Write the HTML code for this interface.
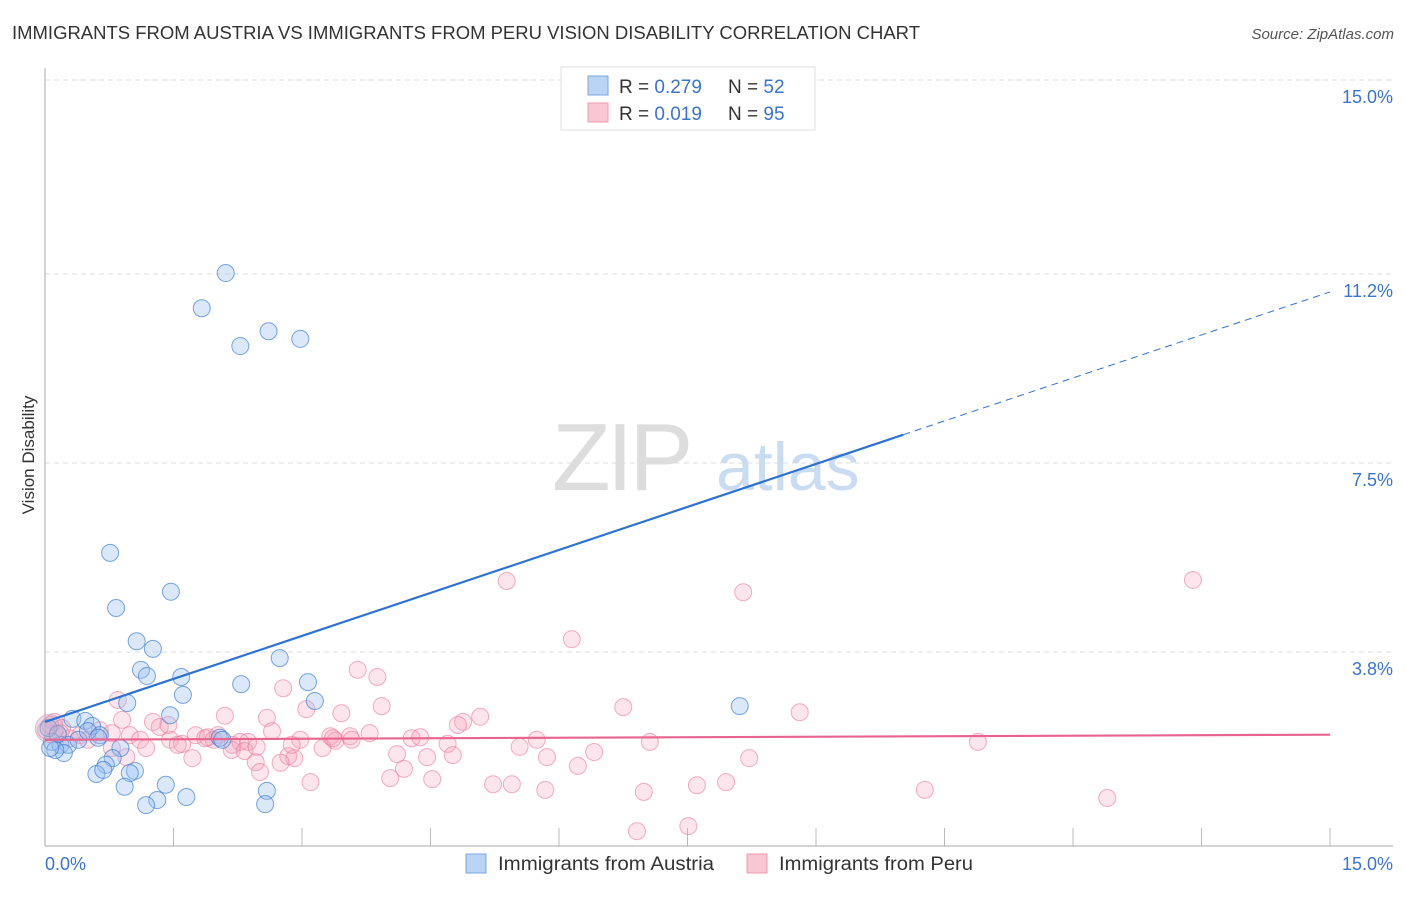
<!DOCTYPE html>
<html><head><meta charset="utf-8"><style>
body{margin:0;background:#fff;font-family:"Liberation Sans",sans-serif;}
svg text{font-family:"Liberation Sans",sans-serif;}
</style></head><body>
<svg id="chart" width="1406" height="892" xmlns="http://www.w3.org/2000/svg">
<text x="12" y="39" font-size="18" fill="#333" textLength="908" lengthAdjust="spacingAndGlyphs">IMMIGRANTS FROM AUSTRIA VS IMMIGRANTS FROM PERU VISION DISABILITY CORRELATION CHART</text>
<text x="1394" y="39" font-size="15" fill="#555" font-style="italic" text-anchor="end">Source: ZipAtlas.com</text>
<text x="552" y="490" font-size="96" fill="#ddd" font-family="Liberation Serif" letter-spacing="-4">ZIP</text>
<text x="716" y="490" font-size="68" fill="#c9dcf2">atlas</text>
<g id="grid"></g>
<g id="axes"></g>
<g id="pts"></g>
<g id="trend"></g>
<text transform="translate(34,455) rotate(-90)" font-size="17" fill="#333" text-anchor="middle">Vision Disability</text>
<text x="45" y="870" font-size="18" fill="#3a74d0">0.0%</text>
<text x="1393" y="870" font-size="18" fill="#3a74d0" text-anchor="end">15.0%</text>
<g>
<rect x="561" y="67" width="254" height="63" fill="#fff" stroke="#ddd"/>
<rect x="588" y="76" width="20" height="19" fill="#b9d4f5" stroke="#7aa6e0"/>
<rect x="588" y="103" width="20" height="19" fill="#f9c6d4" stroke="#f09ab2"/>
<text x="619" y="93" font-size="19" fill="#333">R = <tspan fill="#3a74d0">0.279</tspan></text>
<text x="728" y="93" font-size="19" fill="#333">N = <tspan fill="#3a74d0">52</tspan></text>
<text x="619" y="120" font-size="19" fill="#333">R = <tspan fill="#3a74d0">0.019</tspan></text>
<text x="728" y="120" font-size="19" fill="#333">N = <tspan fill="#3a74d0">95</tspan></text>
</g>
<g>
<rect x="466" y="854" width="20" height="19" fill="#b9d4f5" stroke="#7aa6e0"/>
<text x="498" y="870" font-size="19" fill="#333" textLength="216" lengthAdjust="spacingAndGlyphs">Immigrants from Austria</text>
<rect x="747" y="854" width="20" height="19" fill="#f9c6d4" stroke="#f09ab2"/>
<text x="779" y="870" font-size="19" fill="#333" textLength="194" lengthAdjust="spacingAndGlyphs">Immigrants from Peru</text>
</g>
</svg>
<script>
const yTicks=[15.0,11.2,7.5,3.8];
const yTickLabels=["15.0%","11.2%","7.5%","3.8%"];
const xTicks=[1.5,3,4.5,6,7.5,9,10.5,12,13.5,15];
const austriaX=[2.11,1.83,2.61,2.98,2.28,0.76,0.83,1.47,1.07,1.26,1.12,1.19,1.59,2.74,2.29,3.07,1.61,0.96,3.15,1.46,8.11,0.32,0.47,0.55,0.08,0.18,0.27,0.39,0.22,0.12,0.64,0.88,0.79,0.71,0.60,0.68,1.05,0.99,0.93,1.41,1.31,1.18,1.65,2.59,2.57,2.04,2.07,0.04,0.15,0.50,0.62,0.06];
const austriaY=[11.22,10.53,10.08,9.93,9.79,5.74,4.66,4.98,4.01,3.86,3.45,3.33,3.31,3.68,3.17,3.21,2.96,2.80,2.84,2.56,2.74,2.49,2.45,2.35,2.04,1.98,1.98,2.08,1.82,1.88,2.17,1.92,1.72,1.59,1.41,1.49,1.47,1.43,1.16,1.20,0.90,0.80,0.96,1.08,0.82,2.12,2.08,2.31,2.19,2.25,2.12,1.92];
const peruX=[5.39,8.15,13.40,6.15,3.65,3.88,2.78,3.93,3.05,3.46,5.08,4.88,4.82,6.75,8.81,0.85,0.90,1.26,1.34,2.10,2.59,2.65,0.11,0.20,0.64,0.78,0.99,1.11,1.46,1.60,1.76,1.87,1.97,2.19,2.28,2.37,2.98,3.33,3.39,3.56,3.58,3.79,4.28,4.38,4.70,5.54,5.74,7.06,10.89,1.18,1.55,2.18,2.33,2.47,3.24,4.11,4.46,4.76,5.86,6.41,8.22,0.78,0.95,1.72,2.46,2.84,2.91,2.75,2.51,4.19,6.22,4.03,4.52,3.10,5.23,5.45,7.61,7.95,5.84,6.99,10.27,12.40,6.91,7.51,0.41,0.50,0.29,0.18,0.06,0.01,1.44,1.90,2.02,2.88,3.36];
const peruY=[5.19,4.97,5.21,4.05,3.45,3.31,3.09,2.74,2.68,2.60,2.53,2.43,2.37,2.72,2.62,2.86,2.47,2.43,2.33,2.55,2.51,2.25,2.43,2.31,2.27,2.21,2.17,2.08,2.08,2.00,2.17,2.11,2.08,1.98,2.04,2.04,2.08,2.15,2.06,2.15,2.08,2.21,2.11,2.13,2.00,1.94,2.08,2.04,2.04,1.92,1.98,1.88,1.86,1.94,1.92,1.80,1.74,1.78,1.74,1.84,1.72,1.92,1.74,1.72,1.64,1.76,1.72,1.63,1.45,1.51,1.57,1.33,1.31,1.25,1.21,1.21,1.19,1.25,1.10,1.06,1.10,0.94,0.29,0.39,2.17,2.08,2.11,2.21,2.37,2.27,2.37,2.13,2.17,1.98,2.11];
const austriaTrend=[2.43,10.85];
const peruTrend=[2.08,2.18];
const austriaSolidEnd=10.02;

const NS="http://www.w3.org/2000/svg";
const X=v=>45+v/15*1285;
const Y=v=>846-v/15*766;
function mk(tag,attrs,parent){const e=document.createElementNS(NS,tag);for(const k in attrs)e.setAttribute(k,attrs[k]);parent.appendChild(e);return e;}
const grid=document.getElementById('grid'),axes=document.getElementById('axes'),pts=document.getElementById('pts'),trend=document.getElementById('trend');
yTicks.forEach((t,i)=>{
 const l=mk('line',{x1:45,x2:1393,y1:Y(t),y2:Y(t),stroke:'#ddd','stroke-dasharray':'5,4'},grid);
 
 
 const tx=mk('text',{x:1393,y:Y(t)+23,'font-size':18,fill:'#3a74d0','text-anchor':'end'},grid);
 tx.textContent=yTickLabels[i];
 
 
});
const ya=mk('line',{x1:45,x2:45,y1:68,y2:846,stroke:'#aaa'},axes);


const xa=mk('line',{x1:45,x2:1393,y1:846,y2:846,stroke:'#aaa'},axes);


xTicks.forEach(t=>{
 const l=mk('line',{x1:X(t),x2:X(t),y1:828,y2:846,stroke:'#bbb'},axes);
 
 
});
peruX.forEach((x,i)=>{
 const c=mk('circle',{cx:X(x),cy:Y(peruY[i]),r:8.5,fill:'rgba(246,160,185,0.28)',stroke:'rgba(236,120,155,0.6)','stroke-width':1},pts);
 
 
});
austriaX.forEach((x,i)=>{
 const c=mk('circle',{cx:X(x),cy:Y(austriaY[i]),r:8.5,fill:'rgba(150,190,240,0.35)',stroke:'rgba(50,120,210,0.65)','stroke-width':1},pts);
 
 
});
const big=mk('circle',{cx:X(0.05),cy:Y(2.3),r:14,fill:'rgba(200,170,200,0.4)',stroke:'rgba(220,130,170,0.5)'},pts);


const ay=x=>austriaTrend[0]+(austriaTrend[1]-austriaTrend[0])*x/15;
const t1=mk('line',{x1:X(0),y1:Y(ay(0)),x2:X(austriaSolidEnd),y2:Y(ay(austriaSolidEnd)),stroke:'#2a72d8','stroke-width':2.2},trend);


const t2=mk('line',{x1:X(austriaSolidEnd),y1:Y(ay(austriaSolidEnd)),x2:X(15),y2:Y(ay(15)),stroke:'#2a72d8','stroke-width':1,'stroke-dasharray':'7,5'},trend);


const t3=mk('line',{x1:X(0),y1:Y(peruTrend[0]),x2:X(15),y2:Y(peruTrend[1]),stroke:'#e8638e','stroke-width':2.2},trend);


</script>
</body></html>
